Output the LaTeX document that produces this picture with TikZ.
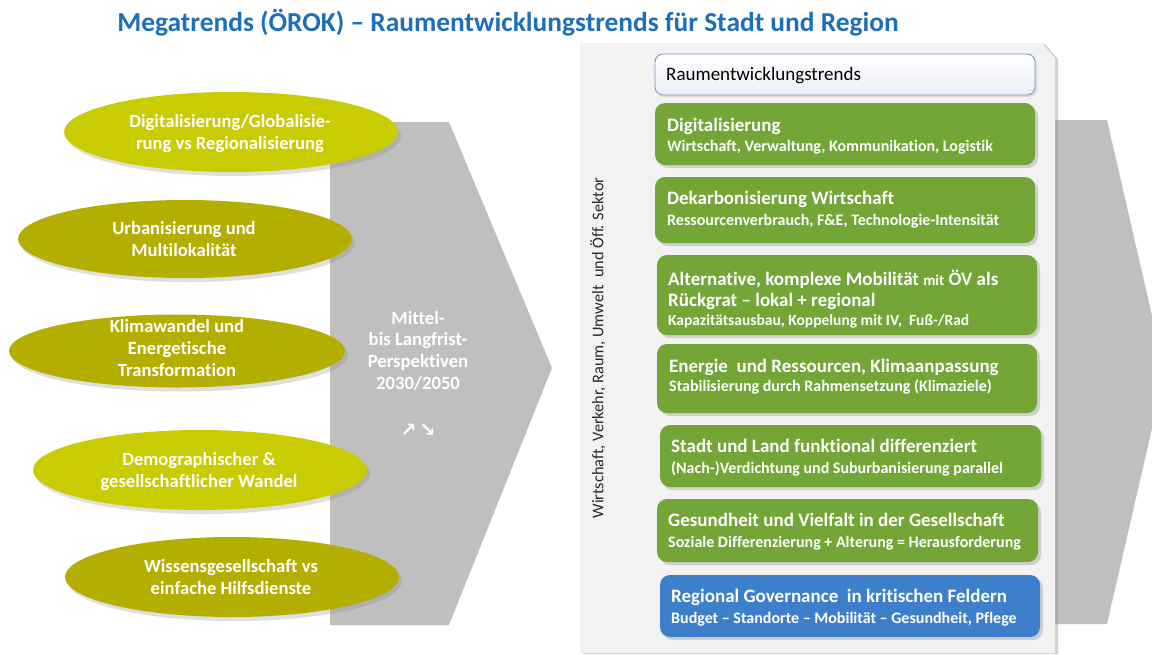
\documentclass[tikz,border=0pt]{standalone}
\usepackage{fontspec}
\setmainfont{Carlito}[Ligatures=NoCommon]
\newfontfamily\arrowfont{DejaVu Sans}
\usetikzlibrary{shapes.geometric,shadows}
\definecolor{titleblue}{RGB}{31,110,185}
\definecolor{limelight}{RGB}{200,204,0}
\definecolor{olivedark}{RGB}{180,174,0}
\definecolor{greyarrow}{RGB}{191,191,191}
\definecolor{panelgrey}{RGB}{242,242,242}
\definecolor{boxgreen}{RGB}{115,165,55}
\definecolor{boxblue}{RGB}{62,127,204}
\definecolor{headborder}{RGB}{125,150,190}
\definecolor{headbottom}{RGB}{234,238,245}
\definecolor{sidetext}{RGB}{40,40,40}
\begin{document}
\begin{tikzpicture}[x=1pt,y=-1pt,
  megaell/.style={ellipse, inner sep=0pt, minimum width=334pt, minimum height=80pt,
    drop shadow={shadow xshift=3pt,shadow yshift=-4pt,opacity=0.25}},
  elltext/.style={align=center, inner sep=0pt, text=white,
    font=\bfseries\fontsize{18.6}{22}\selectfont},
  trendbox/.style={rectangle, rounded corners=10pt, inner sep=0pt, minimum width=380pt,
    drop shadow={shadow xshift=3pt,shadow yshift=-3pt,opacity=0.3}},
  trendtitle/.style={anchor=base west, inner sep=0pt, text=white,
    font=\bfseries\fontsize{19}{22}\selectfont},
  trendsub/.style={anchor=base west, inner sep=0pt, text=white,
    font=\bfseries\fontsize{16}{18}\selectfont},
  greyshape/.style={fill=greyarrow}
]
\clip (0,0) rectangle (1152,654);
\fill[white] (0,0) rectangle (1152,654);

% title
\node[anchor=base, inner sep=0pt, text=titleblue, font=\bfseries\fontsize{27.4}{30}\selectfont]
  (title) at (508,31) {Megatrends (ÖROK) – Raumentwicklungstrends für Stadt und Region};

% left grey arrow
\fill[greyshape] (330,122) -- (449,122) -- (552,368) -- (449,625) -- (330,625) -- cycle;

% ellipses
\node[megaell, fill=limelight] (e1) at (231,132) {};
\node[megaell, fill=olivedark, minimum height=78pt] (e2) at (185,239) {};
\node[megaell, fill=olivedark, minimum width=336pt, minimum height=73pt] (e3) at (177,351) {};
\node[megaell, fill=limelight] (e4) at (200,470) {};
\node[megaell, fill=olivedark] (e5) at (232,577) {};

\node[elltext] (t1) at (230,134) {Digitalisierung/Globalisie-\\rung vs Regionalisierung};
\node[elltext] (t2) at (184,239) {Urbanisierung und\\Multilokalität};
\node[elltext] (t3) at (177,348) {Klimawandel und\\Energetische\\Transformation};
\node[elltext] (t4) at (199,472) {Demographischer \&\\gesellschaftlicher Wandel};
\node[elltext] (t5) at (231,577) {Wissensgesellschaft vs\\einfache Hilfsdienste};

% text in grey arrow
\node[align=center, inner sep=0pt, text=white, font=\bfseries\fontsize{18.7}{21.7}\selectfont]
  (persp) at (418,350.5) {Mittel-\\bis Langfrist-\\Perspektiven\\2030/2050};
\node[inner sep=0pt, text=white, font=\arrowfont\bfseries\fontsize{19}{20}\selectfont]
  (arrows) at (418,430) {↗\,↘};

% right grey arrow
\fill[greyshape] (1040,120) -- (1107,120) -- (1165,372) -- (1107,624) -- (1040,624) -- cycle;

% panel
\fill[panelgrey, drop shadow={shadow xshift=3pt,shadow yshift=-1pt,opacity=0.35}]
  (580,43) -- (1042,43) -- (1055,58) -- (1055,653) -- (580,653) -- cycle;

\node[rotate=90, inner sep=0pt, text=sidetext, font=\fontsize{16.3}{18}\selectfont]
  (side) at (598,348) {Wirtschaft, Verkehr, Raum, Umwelt\ \ und Öff. Sektor};

% header
\node[rectangle, rounded corners=8pt, minimum width=380pt, minimum height=41pt,
  top color=white, bottom color=headbottom, draw=headborder, line width=0.9pt,
  drop shadow={shadow xshift=2pt,shadow yshift=-2pt,opacity=0.2}]
  (hdr) at (845,74.5) {};
\node[anchor=base west, inner sep=0pt, font=\fontsize{19}{20}\selectfont] (hdrtext) at (666,80) {Raumentwicklungstrends};

% boxes
\node[trendbox, fill=boxgreen, minimum height=62pt] (b1) at (845,134) {};
\node[trendbox, fill=boxgreen, minimum height=66pt] (b2) at (845,210) {};
\node[trendbox, fill=boxgreen, minimum height=80pt] (b3) at (847,295) {};
\node[trendbox, fill=boxgreen, minimum height=69pt] (b4) at (847,378.5) {};
\node[trendbox, fill=boxgreen, minimum width=381pt, minimum height=62pt] (b5) at (850.5,456) {};
\node[trendbox, fill=boxgreen, minimum width=381pt, minimum height=63pt] (b6) at (847.5,530.5) {};
\node[trendbox, fill=boxblue, minimum height=62pt] (b7) at (850,606) {};

\node[trendtitle] (b1a) at (667,131) {Digitalisierung};
\node[trendsub] (b1b) at (667,151) {Wirtschaft, Verwaltung, Kommunikation, Logistik};

\node[trendtitle] (b2a) at (667,204) {Dekarbonisierung Wirtschaft};
\node[trendsub] (b2b) at (667,225) {Ressourcenverbrauch, F\&E, Technologie-Intensität};

\node[trendtitle] (b3a) at (668,285) {Alternative, komplexe Mobilität {\fontsize{15}{16}\selectfont mit} ÖV als};
\node[trendtitle] (b3b) at (668,306) {Rückgrat – lokal + regional};
\node[trendsub, font=\bfseries\fontsize{15.5}{16}\selectfont] (b3c) at (668,325) {Kapazitätsausbau, Koppelung mit IV,\ \ Fuß-/Rad};

\node[trendtitle] (b4a) at (669,372) {Energie\ \ und Ressourcen, Klimaanpassung};
\node[trendsub] (b4b) at (669,391) {Stabilisierung durch Rahmensetzung (Klimaziele)};

\node[trendtitle] (b5a) at (671,452) {Stadt und Land funktional differenziert};
\node[trendsub] (b5b) at (671,473) {(Nach-)Verdichtung und Suburbanisierung parallel};

\node[trendtitle] (b6a) at (668,526) {Gesundheit und Vielfalt in der Gesellschaft};
\node[trendsub] (b6b) at (668,547) {Soziale Differenzierung + Alterung = Herausforderung};

\node[trendtitle] (b7a) at (671,602) {Regional Governance\ \ in kritischen Feldern};
\node[trendsub] (b7b) at (671,623) {Budget – Standorte – Mobilität – Gesundheit, Pflege};
\end{tikzpicture}
\end{document}
